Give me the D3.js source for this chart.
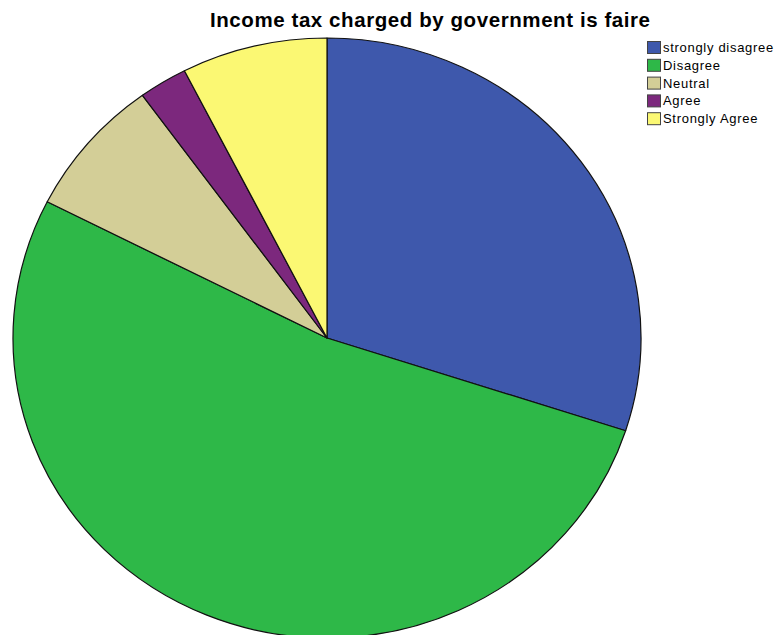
<!DOCTYPE html>
<html>
<head>
<meta charset="utf-8">
<script src="https://cdn.jsdelivr.net/npm/d3@7"></script>
<style>
  html, body { margin: 0; padding: 0; background: #fff; }
  svg { display: block; }
</style>
</head>
<body>
<svg id="chart" width="779" height="635"></svg>
<script>
// Survey responses: "Income tax charged by government is faire"
const categories = ["strongly disagree", "Disagree", "Neutral", "Agree", "Strongly Agree"];
const counts = [12, 21, 3, 1, 3];
const colors = ["#3E58AC", "#2EB848", "#D3CE97", "#7C287D", "#FBF873"];
const title = "Income tax charged by government is faire";

const svg = d3.select("#chart");
const W = 779, H = 635;

svg.append("rect").attr("width", W).attr("height", H).attr("fill", "#fff");

// Pie is drawn on a circle of radius ry and stretched horizontally into an ellipse
const cx = 327, cy = 338, rx = 314, ry = 300;

const pie = d3.pie().sort(null).value(d => d.value)
  .startAngle(0).endAngle(2 * Math.PI);
const arc = d3.arc().innerRadius(0).outerRadius(ry);

const data = categories.map((c, i) => ({ name: c, value: counts[i], color: colors[i] }));

const g = svg.append("g")
  .attr("transform", `translate(${cx},${cy}) scale(${rx / ry},1)`);

g.selectAll("path.slice")
  .data(pie(data))
  .join("path")
  .attr("class", "slice")
  .attr("d", arc)
  .attr("fill", d => d.data.color)
  .attr("stroke", "#111")
  .attr("stroke-width", 1.2)
  .attr("stroke-linejoin", "round")
  .attr("vector-effect", "non-scaling-stroke");

// Title
svg.append("text")
  .attr("x", 430)
  .attr("y", 27)
  .attr("text-anchor", "middle")
  .attr("font-family", "Liberation Sans, Arial, sans-serif")
  .attr("font-weight", "bold")
  .attr("font-size", 20.5)
  .attr("textLength", 440)
  .attr("lengthAdjust", "spacing")
  .attr("fill", "#000")
  .text(title);

// Legend
const legend = svg.append("g").attr("transform", "translate(647,41)");
const rows = legend.selectAll("g.row")
  .data(data)
  .join("g")
  .attr("class", "row")
  .attr("transform", (d, i) => `translate(0,${i * 17.8})`);

rows.append("rect")
  .attr("x", 0.5).attr("y", 0.5)
  .attr("width", 13).attr("height", 12)
  .attr("fill", d => d.color)
  .attr("stroke", "#444")
  .attr("stroke-width", 1);

rows.append("text")
  .attr("x", 16)
  .attr("y", 11)
  .attr("font-family", "Liberation Sans, Arial, sans-serif")
  .attr("font-size", 13)
  .attr("letter-spacing", 0.7)
  .attr("fill", "#000")
  .text(d => d.name);
</script>
</body>
</html>
